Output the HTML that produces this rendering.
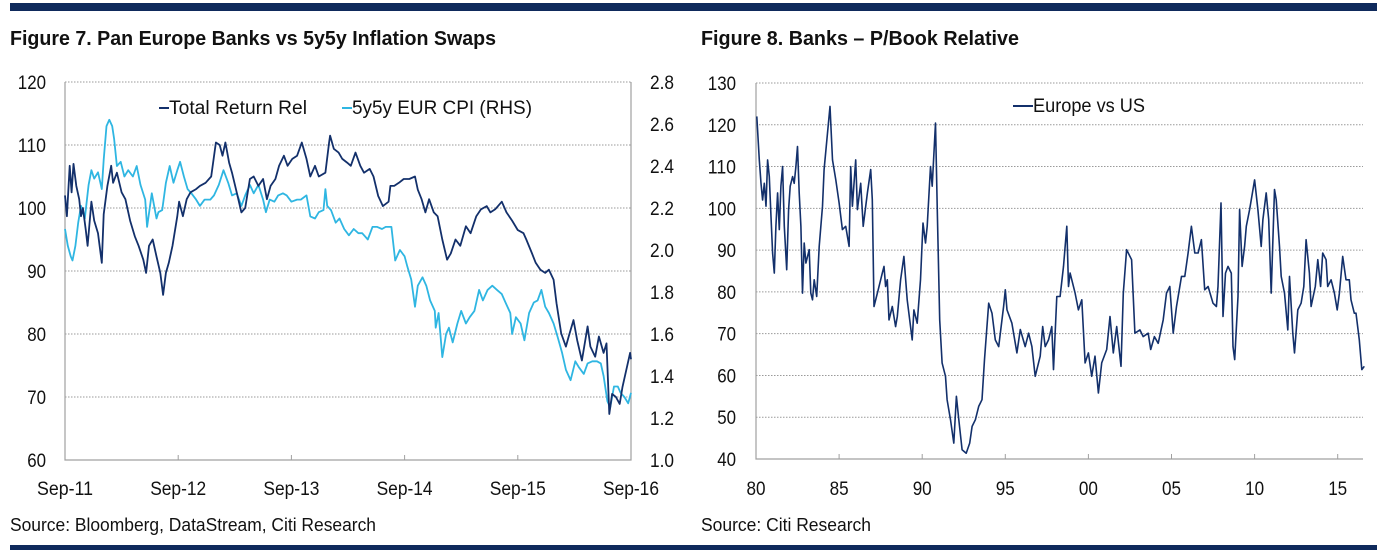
<!DOCTYPE html>
<html><head><meta charset="utf-8"><style>
html,body{margin:0;padding:0;background:#fff;width:1377px;height:552px;overflow:hidden}
svg{display:block;font-family:"Liberation Sans",Arial,sans-serif}
</style></head><body>
<svg id="c" width="1377" height="552" viewBox="0 0 1377 552" xmlns="http://www.w3.org/2000/svg">
<rect x="10" y="3" width="1367" height="8" fill="#0f2a5c"/>
<rect x="10" y="545" width="1367" height="5" fill="#0f2a5c"/>
<text x="10" y="45" font-size="20" font-weight="bold" textLength="486" lengthAdjust="spacingAndGlyphs" fill="#111">Figure 7. Pan Europe Banks vs 5y5y Inflation Swaps</text>
<text x="701" y="45" font-size="20" font-weight="bold" textLength="318" lengthAdjust="spacingAndGlyphs" fill="#111">Figure 8. Banks – P/Book Relative</text>
<text x="10" y="531" font-size="18" textLength="366" lengthAdjust="spacingAndGlyphs" fill="#111">Source: Bloomberg, DataStream, Citi Research</text>
<text x="701" y="531" font-size="18" textLength="170" lengthAdjust="spacingAndGlyphs" fill="#111">Source: Citi Research</text>
<g id="g1"></g>
<g id="g2"></g>
</svg>
<script>
// Figure 7 data (months since Sep-11)
const trMonths=[0,0.2,0.5,0.7,0.9,1.2,1.5,1.7,1.9,2.2,2.4,2.8,3.1,3.5,3.9,4.1,4.5,4.9,5.1,5.5,6.0,6.4,6.9,7.4,7.8,8.3,8.6,8.9,9.3,9.7,10.1,10.4,10.7,11.0,11.4,11.9,12.1,12.5,12.9,13.3,13.9,14.3,14.9,15.5,16.0,16.4,16.7,17.0,17.4,17.7,18.2,18.7,19.1,19.6,20.0,20.5,21.0,21.4,21.8,22.3,22.7,23.2,23.6,24.1,24.6,25.1,25.6,26.0,26.5,26.9,27.6,28.0,28.1,28.5,29.0,29.4,29.9,30.3,30.8,31.3,31.7,32.3,32.7,33.2,33.7,34.3,34.5,34.9,35.4,35.9,36.5,37.1,37.4,37.8,38.2,38.6,39.1,39.5,40.0,40.5,40.9,41.4,41.9,42.5,43.0,43.6,44.1,44.7,45.1,45.6,46.3,46.8,47.4,48.0,48.6,48.9,49.5,49.9,50.4,50.9,51.3,51.8,52.1,52.6,53.1,53.4,53.9,54.3,54.8,55.4,55.7,56.2,56.6,57.1,57.4,57.7,58.0,58.4,58.8,59.1,59.5,59.9,60];
const trValues=[102,98.7,106.7,102.5,107,103.5,101.4,98.7,100,96.5,94,101,98,96,91.3,99,103.5,106.7,104,105.6,102.5,101.4,98,95.5,94,91.8,89.7,94,95,92.3,89.7,86.2,89.7,91.3,94,98.7,101,98.7,101.4,102.5,103,103.5,104,105,110.4,110,108.3,110.4,107.2,105.6,102.5,99.3,100,104.6,105,103.5,104.6,101.4,103.5,104.6,106.7,108.3,106.7,107.8,108.3,110.4,107.8,105,106.7,105,105.6,110.4,111.5,109.4,108.8,107.8,107.2,106.7,108.8,106.7,105.6,106.2,105,101.9,100.3,101,103.5,103.5,104,104.6,104.6,105,102.9,101.4,99.3,101.4,99.3,98.7,95,91.8,92.8,95,94,97.1,96,98.7,99.8,100.3,99.3,99.8,101,99.3,98,96.5,96,95,92.8,91.3,90.2,89.7,90.2,88.6,84.9,80.1,78,79.6,82.2,79,75.8,81.2,78,76.4,79.6,77,78.5,67.3,70.5,70,68.9,71.6,74.3,77,76];
const cpiMonths=[0,0.3,0.6,0.8,1.1,1.4,1.7,2.1,2.5,2.8,3.1,3.5,3.9,4.1,4.4,4.7,5.0,5.2,5.5,5.9,6.3,6.7,7.2,7.6,8.0,8.5,8.7,9.2,9.7,9.9,10.3,10.7,11.1,11.5,11.9,12.2,12.6,13.0,13.4,13.9,14.3,14.8,15.4,15.8,16.3,16.8,17.3,17.7,18.2,18.7,19.1,19.6,20.0,20.5,21.0,21.3,21.7,22.2,22.6,23.1,23.5,24.0,24.6,25.0,25.6,26.0,26.5,26.9,27.4,27.6,27.8,28.2,28.7,29.1,29.6,30.1,30.6,31.1,31.5,32.1,32.6,33.1,33.6,34.0,34.6,35.0,35.5,36.0,36.3,36.7,37.1,37.4,37.9,38.3,38.7,39.2,39.3,39.6,40.0,40.4,40.7,41.1,41.6,42.0,42.5,42.9,43.4,43.9,44.3,44.8,45.3,45.8,46.3,46.7,47.2,47.4,47.8,48.3,48.7,49.2,49.7,50.1,50.5,50.9,51.3,51.8,52.2,52.7,53.1,53.6,54.1,54.5,55.0,55.4,55.9,56.4,56.8,57.1,57.5,57.8,58.2,58.6,58.9,59.3,59.7,60];
const cpiValues=[2.10,2.02,1.97,1.95,2.02,2.13,2.21,2.15,2.31,2.38,2.34,2.37,2.29,2.43,2.59,2.62,2.59,2.53,2.40,2.42,2.35,2.38,2.35,2.40,2.31,2.24,2.11,2.27,2.15,2.18,2.19,2.32,2.40,2.32,2.38,2.42,2.35,2.29,2.27,2.24,2.21,2.24,2.24,2.26,2.31,2.38,2.32,2.26,2.27,2.21,2.26,2.31,2.27,2.31,2.24,2.18,2.24,2.23,2.26,2.27,2.26,2.23,2.24,2.24,2.26,2.16,2.15,2.18,2.19,2.29,2.21,2.19,2.13,2.15,2.10,2.07,2.10,2.08,2.08,2.05,2.11,2.11,2.10,2.11,2.11,1.95,2.0,1.97,1.92,1.86,1.73,1.83,1.87,1.83,1.76,1.71,1.63,1.70,1.49,1.60,1.63,1.56,1.65,1.71,1.65,1.68,1.71,1.81,1.76,1.81,1.83,1.81,1.79,1.75,1.70,1.60,1.68,1.65,1.57,1.70,1.75,1.76,1.81,1.73,1.70,1.65,1.59,1.51,1.43,1.38,1.47,1.44,1.41,1.46,1.47,1.47,1.46,1.40,1.28,1.25,1.35,1.35,1.32,1.30,1.27,1.32];
const leftTicks=[60,70,80,90,100,110,120];
const rightTicks=["1.0","1.2","1.4","1.6","1.8","2.0","2.2","2.4","2.6","2.8"];
const xLabels1=["Sep-11","Sep-12","Sep-13","Sep-14","Sep-15","Sep-16"];
// Figure 8 data
const pbYears=[1980.05,1980.2,1980.3,1980.4,1980.5,1980.6,1980.7,1980.8,1980.9,1981.0,1981.1,1981.2,1981.3,1981.4,1981.5,1981.6,1981.7,1981.85,1981.96,1982.06,1982.2,1982.3,1982.4,1982.5,1982.6,1982.7,1982.8,1982.9,1983.0,1983.2,1983.3,1983.4,1983.5,1983.65,1983.8,1984.0,1984.1,1984.3,1984.45,1984.6,1984.8,1985.0,1985.2,1985.4,1985.6,1985.7,1985.8,1986.0,1986.1,1986.3,1986.45,1986.7,1986.9,1987.0,1987.1,1987.35,1987.6,1987.7,1987.8,1987.9,1988.0,1988.2,1988.4,1988.5,1988.7,1988.9,1989.1,1989.4,1989.5,1989.7,1989.9,1990.05,1990.2,1990.3,1990.5,1990.6,1990.8,1990.9,1991.05,1991.2,1991.4,1991.5,1991.7,1991.9,1992.06,1992.2,1992.4,1992.65,1992.86,1993.0,1993.2,1993.4,1993.6,1993.75,1994.0,1994.2,1994.4,1994.6,1994.9,1995.0,1995.1,1995.4,1995.7,1995.9,1996.2,1996.4,1996.6,1996.8,1997.1,1997.25,1997.4,1997.6,1997.8,1997.9,1998.1,1998.3,1998.5,1998.7,1998.8,1998.9,1999.2,1999.4,1999.6,1999.8,2000.0,2000.2,2000.4,2000.6,2000.8,2001.1,2001.3,2001.5,2001.7,2001.96,2002.1,2002.3,2002.6,2002.8,2003.1,2003.3,2003.6,2003.75,2003.97,2004.2,2004.5,2004.7,2004.9,2005.1,2005.3,2005.6,2005.8,2006.0,2006.2,2006.4,2006.6,2006.8,2007.0,2007.2,2007.5,2007.7,2007.8,2007.98,2008.1,2008.25,2008.4,2008.6,2008.7,2008.8,2009.0,2009.1,2009.25,2009.4,2009.5,2009.7,2009.8,2010.0,2010.2,2010.4,2010.5,2010.7,2010.85,2011.0,2011.2,2011.3,2011.5,2011.6,2011.8,2012.0,2012.1,2012.3,2012.4,2012.6,2012.8,2012.96,2013.1,2013.3,2013.4,2013.65,2013.8,2013.97,2014.1,2014.3,2014.4,2014.6,2014.8,2014.97,2015.1,2015.3,2015.5,2015.7,2015.8,2016.0,2016.1,2016.3,2016.45,2016.6];
const pbValues=[122,111.6,106,102,106,100.5,111.6,107.6,98,89.3,84.5,95.7,103.7,94.9,105.3,110,95.7,85.3,99.7,105.3,107.6,106,110,114.8,103.7,95.7,79.7,91.7,86.9,90.1,79.7,78.1,82.9,78.9,90.9,100.5,109.3,118,124.4,111.6,106.8,101.3,94.9,95.7,90.9,110,100.5,111.6,99.7,106,95.7,103.7,109.3,102.1,76.5,80.5,84.5,86.1,81.3,82.9,73.3,76.5,71.7,74.1,82.9,88.5,78.1,68.5,75.7,72.5,82.9,96.5,91.7,95.7,110,105.3,120.4,100.5,73.3,63,59.8,54.2,49.4,43.8,55,49.4,42.2,41.4,43.8,47.8,49.4,52.6,54.2,63.8,77.3,74.9,68.5,66.9,76.5,80.5,75.7,72.5,65.4,71,66.9,70.1,66.9,59.8,64.6,71.7,66.9,68.5,71.7,61.4,78.9,78.9,86.1,95.7,81.3,84.5,79.7,75.7,78.1,63,65.4,59.8,64.6,55.8,63,66.2,74.1,65.4,71.7,62.2,79.7,90.1,87.7,70.1,70.9,69.3,70.1,66.2,69.3,67.7,73.3,79.7,81.3,70.1,76.5,83.7,83.7,89.3,95.7,89.3,89.3,92.5,80.5,81.3,77.3,76.5,81.3,101.3,74.1,84.5,86.1,84.5,66.9,63.8,78.9,99.7,86.1,90.9,95.7,99.7,102.1,106.8,99.7,90.9,97.3,103.7,97.3,79.7,104.5,102.1,90.9,83.7,79.7,70.9,83.7,70.1,65.4,75.7,77.3,81.3,92.5,84.5,76.5,81.3,87.7,81.3,89.3,87.7,81.3,82.9,79.7,75.7,79.7,88.5,82.9,82.9,78.1,74.9,74.9,68.5,61.4,62.2];
const pbTicks=[40,50,60,70,80,90,100,110,120,130];
const xLabels2=["80","85","90","95","00","05","10","15"];

const NS="http://www.w3.org/2000/svg";
function mk(parent,tag,attrs,txt){const e=document.createElementNS(NS,tag);for(const k in attrs)e.setAttribute(k,attrs[k]);if(txt!==undefined)e.textContent=txt;parent.appendChild(e);return e;}
const DARK="#13306b",LIGHT="#2fb6e2",GRID="#9a9a9a",AX="#a0a0a0";
const FS=19,CW=9.4;

// ---- Figure 7 ----
const g1=document.getElementById('g1');
const L1=65,R1=631,T1=82,B1=460;
const x1=m=>L1+(m/60)*(R1-L1);
const yL=v=>B1-(v-60)/60*(B1-T1);
const yR=v=>B1-(v-1.0)/1.8*(B1-T1);
leftTicks.forEach(v=>{
  if(v>60){const l=mk(g1,'line',{x1:L1,x2:R1,y1:yL(v),y2:yL(v),stroke:GRID,'stroke-width':1,'stroke-dasharray':'1.5,1.5'});
  
  }
  const s=String(v);
  const t=mk(g1,'text',{x:46,y:yL(v)+7,'font-size':FS,'text-anchor':'end',fill:'#111',textLength:s.length*CW,lengthAdjust:'spacingAndGlyphs'},s);
  
  
});
rightTicks.forEach(s=>{
  const t=mk(g1,'text',{x:650,y:yR(parseFloat(s))+7,'font-size':FS,fill:'#111',textLength:24,lengthAdjust:'spacingAndGlyphs'},s);
  
  
});
xLabels1.forEach((s,i)=>{
  const xx=x1(i*12);
  if(i>0&&i<5){const tk=mk(g1,'line',{x1:xx,x2:xx,y1:B1,y2:B1-5,stroke:AX});
  
  }
  const t=mk(g1,'text',{x:xx,y:495,'font-size':FS,'text-anchor':'middle',fill:'#111',textLength:56,lengthAdjust:'spacingAndGlyphs'},s);
  
  
});
const fr=mk(g1,'path',{d:`M${L1},${T1}V${B1}H${R1}V${T1}`,fill:'none',stroke:AX,'stroke-width':1.2});


const pCpi=mk(g1,'polyline',{points:cpiMonths.map((m,i)=>x1(m).toFixed(1)+','+yR(cpiValues[i]).toFixed(1)).join(' '),fill:'none',stroke:LIGHT,'stroke-width':1.8,'stroke-linejoin':'round'});


const pTr=mk(g1,'polyline',{points:trMonths.map((m,i)=>x1(m).toFixed(1)+','+yL(trValues[i]).toFixed(1)).join(' '),fill:'none',stroke:DARK,'stroke-width':1.8,'stroke-linejoin':'round'});


const lg1=mk(g1,'g',{});


mk(lg1,'line',{x1:159,x2:169,y1:108,y2:108,stroke:DARK,'stroke-width':2});
const lt1=mk(lg1,'text',{x:169,y:114,'font-size':FS,fill:'#111',textLength:138,lengthAdjust:'spacingAndGlyphs'},'Total Return Rel');


mk(lg1,'line',{x1:342,x2:352,y1:108,y2:108,stroke:LIGHT,'stroke-width':2});
const lt2=mk(lg1,'text',{x:352,y:114,'font-size':FS,fill:'#111',textLength:180,lengthAdjust:'spacingAndGlyphs'},'5y5y EUR CPI (RHS)');



// ---- Figure 8 ----
const g2=document.getElementById('g2');
const L2=756,R2=1363,T2=83,B2=459;
const x2=yr=>L2+(yr-1980)/5*83.1;
const y2=v=>B2-(v-40)/90*(B2-T2);
pbTicks.forEach(v=>{
  if(v>40){const l=mk(g2,'line',{x1:L2,x2:R2,y1:y2(v),y2:y2(v),stroke:GRID,'stroke-width':1,'stroke-dasharray':'1.5,1.5'});
  
  }
  const s=String(v);
  const t=mk(g2,'text',{x:736,y:y2(v)+7,'font-size':FS,'text-anchor':'end',fill:'#111',textLength:s.length*CW,lengthAdjust:'spacingAndGlyphs'},s);
  
  
});
xLabels2.forEach((s,i)=>{
  const xx=x2(1980+i*5);
  if(i>0){const tk=mk(g2,'line',{x1:xx,x2:xx,y1:B2,y2:B2-5,stroke:AX});
  
  }
  const t=mk(g2,'text',{x:xx,y:495,'font-size':FS,'text-anchor':'middle',fill:'#111',textLength:19,lengthAdjust:'spacingAndGlyphs'},s);
  
  
});
const ax2=mk(g2,'path',{d:`M${L2},${T2}V${B2}H${R2}`,fill:'none',stroke:AX,'stroke-width':1.2});


const pPb=mk(g2,'polyline',{points:pbYears.map((yr,i)=>x2(yr).toFixed(1)+','+y2(pbValues[i]).toFixed(1)).join(' '),fill:'none',stroke:DARK,'stroke-width':1.6,'stroke-linejoin':'round'});


const lg2=mk(g2,'g',{});


mk(lg2,'line',{x1:1013,x2:1033,y1:106,y2:106,stroke:DARK,'stroke-width':2});
const lt3=mk(lg2,'text',{x:1033,y:112,'font-size':FS,fill:'#111',textLength:112,lengthAdjust:'spacingAndGlyphs'},'Europe vs US');


</script>
</body></html>
